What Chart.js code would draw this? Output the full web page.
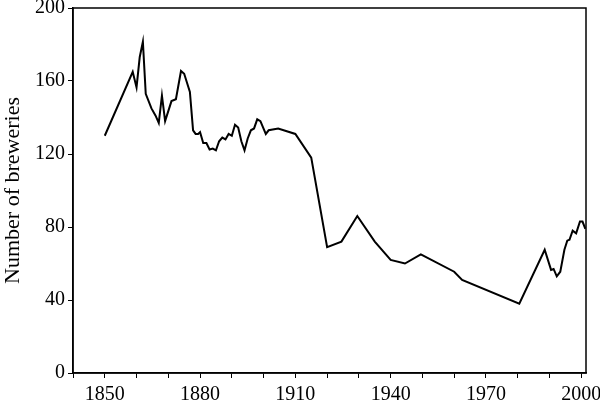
<!DOCTYPE html>
<html>
<head>
<meta charset="utf-8">
<script src="https://cdn.jsdelivr.net/npm/chart.js@4/dist/chart.umd.min.js"></script>
<style>
  html, body { margin: 0; padding: 0; background: #fff; }
  #wrap { width: 600px; height: 400px; }
</style>
</head>
<body>
<div id="wrap"><canvas id="chart"></canvas></div>
<script>
// values
const years = [1850, 1858.8, 1860, 1861, 1862, 1862.9, 1864.7, 1866, 1867, 1868, 1869, 1871, 1872.4,
  1874, 1875, 1876.8, 1877.8, 1878.6, 1879.4, 1880, 1881, 1882, 1883, 1884, 1885, 1886, 1887, 1888,
  1889, 1890, 1891, 1892, 1893, 1894, 1895, 1896, 1897, 1898, 1899, 1900.7, 1901.6, 1904.6, 1910,
  1915, 1920, 1924.5, 1929.5, 1935, 1940, 1944.5, 1949.5, 1960, 1962.5, 1980.5, 1988.5, 1990.5,
  1991.3, 1992.3, 1993.4, 1994.7, 1995.6, 1996.3, 1997.3, 1998.4, 1999.6, 2000.4, 2001.3]
const breweries = [130, 165, 156.5, 173, 181.5, 153, 145, 141, 137, 152, 138, 149, 150,
  165.5, 164, 154, 133, 131, 131, 132, 126, 126, 122.5, 123, 122, 127, 129, 128,
  131, 130, 136, 134.5, 127, 122, 128.5, 133, 134, 139, 138, 131, 133, 134, 131,
  118, 69, 72, 86, 72, 62, 60, 65, 55.5, 51, 38, 67.5, 56.5,
  57, 53, 55.5, 67.5, 72.5, 73, 78, 76.5, 83, 83, 79]
const yTicks = [0, 40, 80, 120, 160, 200]
const xTicks = [1840, 1850, 1860, 1870, 1880, 1890, 1900, 1910, 1920, 1930, 1940, 1950, 1960, 1970, 1980, 1990, 2000]
const xLabelled = [1850, 1880, 1910, 1940, 1970, 2000]

const font = { family: 'Liberation Serif', size: 20 }

const points = years.map((y, i) => ({ x: y, y: breweries[i] }))

// draws the frame round the plot area
const boxPlugin = {
  id: 'box',
  afterDraw(chart) {
    const a = chart.chartArea
    const ctx = chart.ctx
    ctx.save()
    ctx.strokeStyle = '#000'
    ctx.lineWidth = 1.5
    ctx.strokeRect(a.left, a.top, a.right - a.left, a.bottom - a.top)
    ctx.restore()
  }
}

new Chart(document.getElementById('chart'), {
  type: 'line',
  data: {
    datasets: [{
      data: points,
      borderColor: '#000',
      borderWidth: 2,
      pointRadius: 0,
      tension: 0,
      fill: false
    }]
  },
  options: {
    responsive: true,
    maintainAspectRatio: false,
    animation: false,
    layout: { padding: { top: 8, right: 14, left: 0, bottom: 0 } },
    plugins: { legend: { display: false }, tooltip: { enabled: false } },
    scales: {
      x: {
        type: 'linear',
        min: 1840,
        max: 2001.5,
        afterBuildTicks(scale) {
          scale.ticks = xTicks.map(v => ({ value: v }))
        },
        afterFit(scale) {
          scale.height = 27
          scale.paddingLeft = 0
          scale.paddingRight = 0
        },
        ticks: {
          autoSkip: false,
          maxRotation: 0,
          padding: 5,
          color: '#000',
          font: font,
          callback: (v) => xLabelled.includes(v) ? String(v) : ''
        },
        grid: { drawOnChartArea: false, tickLength: 5, color: '#000', lineWidth: 1 },
        border: { color: '#000', width: 1.5 }
      },
      y: {
        min: 0,
        max: 200,
        afterBuildTicks(scale) {
          scale.ticks = yTicks.map(v => ({ value: v }))
        },
        afterFit(scale) {
          scale.width = 73
          scale.paddingTop = 0
          scale.paddingBottom = 0
        },
        title: {
          display: true,
          text: 'Number of breweries',
          color: '#000',
          font: { family: 'Liberation Serif', size: 22 },
          padding: 0
        },
        ticks: { color: '#000', font: font, padding: 3 },
        grid: { drawOnChartArea: false, tickLength: 5, color: '#000', lineWidth: 1 },
        border: { color: '#000', width: 1.5 }
      }
    }
  },
  plugins: [boxPlugin]
})
</script>
</body>
</html>
